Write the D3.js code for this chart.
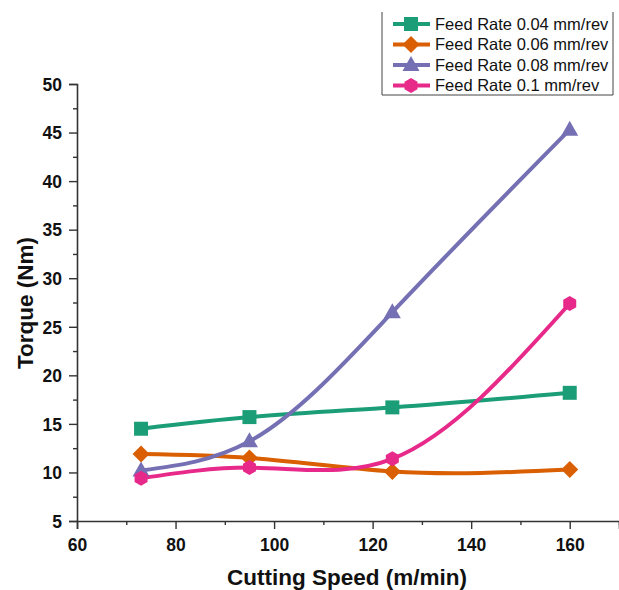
<!DOCTYPE html>
<html lang="en">
<head>
  <meta charset="utf-8">
  <script src="https://d3js.org/d3.v7.min.js"></script>
  <style>
    body { margin: 0; background: #fff; }
    text { font-family: "Liberation Sans", Arial, sans-serif; }
  </style>
</head>
<body>
<svg width="619" height="590"></svg>
<script>
// data
var speeds = [73, 95, 124, 160];
var feed004 = [14.5, 15.7, 16.7, 18.2];
var feed006 = [11.9, 11.5, 10.1, 10.3];
var feed008 = [10.2, 13.2, 26.5, 45.3];
var feed010 = [9.4, 10.5, 11.4, 27.4];
var xTicks = [60, 80, 100, 120, 140, 160];
var yTicks = [5, 10, 15, 20, 25, 30, 35, 40, 45, 50];

var series = [
  { name: "Feed Rate 0.04 mm/rev", values: feed004, color: "#1b9e77", shape: "square" },
  { name: "Feed Rate 0.06 mm/rev", values: feed006, color: "#d95f02", shape: "diamond" },
  { name: "Feed Rate 0.08 mm/rev", values: feed008, color: "#7570b3", shape: "triangle" },
  { name: "Feed Rate 0.1 mm/rev", values: feed010, color: "#e7298a", shape: "hexagon" }
];

var svg = d3.select("svg");
var x = d3.scaleLinear().domain([60, 170]).range([77, 619]);
var y = d3.scaleLinear().domain([5, 50]).range([521, 84]);

// marker shapes
function markerPath(shape) {
  if (shape == "square") return "M-7,-7H7V7H-7Z";
  if (shape == "diamond") return "M0,-8.5L8.5,0L0,8.5L-8.5,0Z";
  if (shape == "triangle") return "M0,-9L8.5,6L-8.5,6Z";
  var pts = d3.range(6).map(function(i) {
    var a = Math.PI / 6 + i * Math.PI / 3;
    return [7.5 * Math.cos(a), 7.5 * Math.sin(a)];
  });
  return "M" + pts.join("L") + "Z";
}

// natural cubic spline with x as the parameter (like Origin's spline line),
// written out as bezier segments
function splinePath(pts) {
  var n = pts.length, h = [], M = new Array(n).fill(0);
  for (var i = 0; i < n - 1; i++) h.push(pts[i + 1][0] - pts[i][0]);
  var a = [], b = [], c = [], r = [];
  for (var i = 1; i < n - 1; i++) {
    a.push(h[i - 1]); b.push(2 * (h[i - 1] + h[i])); c.push(h[i]);
    r.push(6 * ((pts[i + 1][1] - pts[i][1]) / h[i] - (pts[i][1] - pts[i - 1][1]) / h[i - 1]));
  }
  var m = r.length;
  for (var i = 1; i < m; i++) {
    var w = a[i] / b[i - 1];
    b[i] -= w * c[i - 1];
    r[i] -= w * r[i - 1];
  }
  for (var i = m - 1; i >= 0; i--) {
    M[i + 1] = (r[i] - (i < m - 1 ? c[i] * M[i + 2] : 0)) / b[i];
  }
  var p = d3.path();
  p.moveTo(pts[0][0], pts[0][1]);
  for (var i = 0; i < n - 1; i++) {
    var s = (pts[i + 1][1] - pts[i][1]) / h[i];
    var d0 = s - h[i] * (2 * M[i] + M[i + 1]) / 6;
    var d1 = s + h[i] * (M[i] + 2 * M[i + 1]) / 6;
    p.bezierCurveTo(pts[i][0] + h[i] / 3, pts[i][1] + d0 * h[i] / 3,
                    pts[i + 1][0] - h[i] / 3, pts[i + 1][1] - d1 * h[i] / 3,
                    pts[i + 1][0], pts[i + 1][1]);
  }
  return p.toString();
}

// axes
var xAxis = svg.append("g")
  .attr("transform", "translate(0,521)")
  .call(d3.axisBottom(x).tickValues(xTicks).tickSize(8).tickPadding(10));
svg.append("g")
  .attr("transform", "translate(0,521)")
  .call(d3.axisBottom(x).tickValues([70, 90, 110, 130, 150, 170]).tickSize(4).tickFormat(""))
  .select(".domain").remove();
var yAxis = svg.append("g")
  .attr("transform", "translate(77,0)")
  .call(d3.axisLeft(y).tickValues(yTicks).tickSize(8).tickPadding(7));
svg.append("g")
  .attr("transform", "translate(77,0)")
  .call(d3.axisLeft(y).tickValues([7.5, 12.5, 17.5, 22.5, 27.5, 32.5, 37.5, 42.5, 47.5]).tickSize(4).tickFormat(""))
  .select(".domain").remove();

svg.selectAll(".domain").attr("stroke", "#333").attr("stroke-width", 1.6);
svg.selectAll(".tick line").attr("stroke", "#333").attr("stroke-width", 1.4);
svg.selectAll(".tick text")
  .attr("font-size", "17.5px")
  .attr("font-weight", "bold")
  .attr("fill", "#111")
  .style("font-family", "'Liberation Sans', Arial, sans-serif");
yAxis.selectAll(".tick text").attr("dy", "0.36em");

// axis titles
svg.append("text")
  .attr("x", 347)
  .attr("y", 585)
  .attr("text-anchor", "middle")
  .attr("font-size", "22.5px")
  .attr("font-weight", "bold")
  .attr("fill", "#111")
  .text("Cutting Speed (m/min)");
svg.append("text")
  .attr("transform", "translate(33,303) rotate(-90)")
  .attr("text-anchor", "middle")
  .attr("font-size", "22.5px")
  .attr("font-weight", "bold")
  .attr("fill", "#111")
  .text("Torque (Nm)");

// lines
series.forEach(function(s) {
  var pts = speeds.map(function(v, i) { return [x(v), y(s.values[i])]; });
  svg.append("path")
    .attr("fill", "none")
    .attr("stroke", s.color)
    .attr("stroke-width", 4)
    .attr("d", splinePath(pts));
});
series.forEach(function(s) {
  svg.selectAll(null)
    .data(speeds.map(function(v, i) { return [v, s.values[i]]; }))
    .enter().append("path")
    .attr("transform", function(d) { return "translate(" + x(d[0]) + "," + y(d[1]) + ")"; })
    .attr("d", markerPath(s.shape))
    .attr("fill", s.color);
});

// legend
var lg = svg.append("g");
lg.append("path")
  .attr("d", "M382,12V95H613V12")
  .attr("fill", "none")
  .attr("stroke", "#444")
  .attr("stroke-width", 1);
series.forEach(function(s, i) {
  var ly = 24 + i * 20.5;
  lg.append("line")
    .attr("x1", 393).attr("x2", 430)
    .attr("y1", ly).attr("y2", ly)
    .attr("stroke", s.color)
    .attr("stroke-width", 4);
  lg.append("path")
    .attr("transform", "translate(411," + ly + ")")
    .attr("d", markerPath(s.shape))
    .attr("fill", s.color);
  lg.append("text")
    .attr("x", 435)
    .attr("y", ly)
    .attr("dy", "0.35em")
    .attr("font-size", "16.5px")
    .attr("fill", "#111")
    .text(s.name);
});
</script>
</body>
</html>
